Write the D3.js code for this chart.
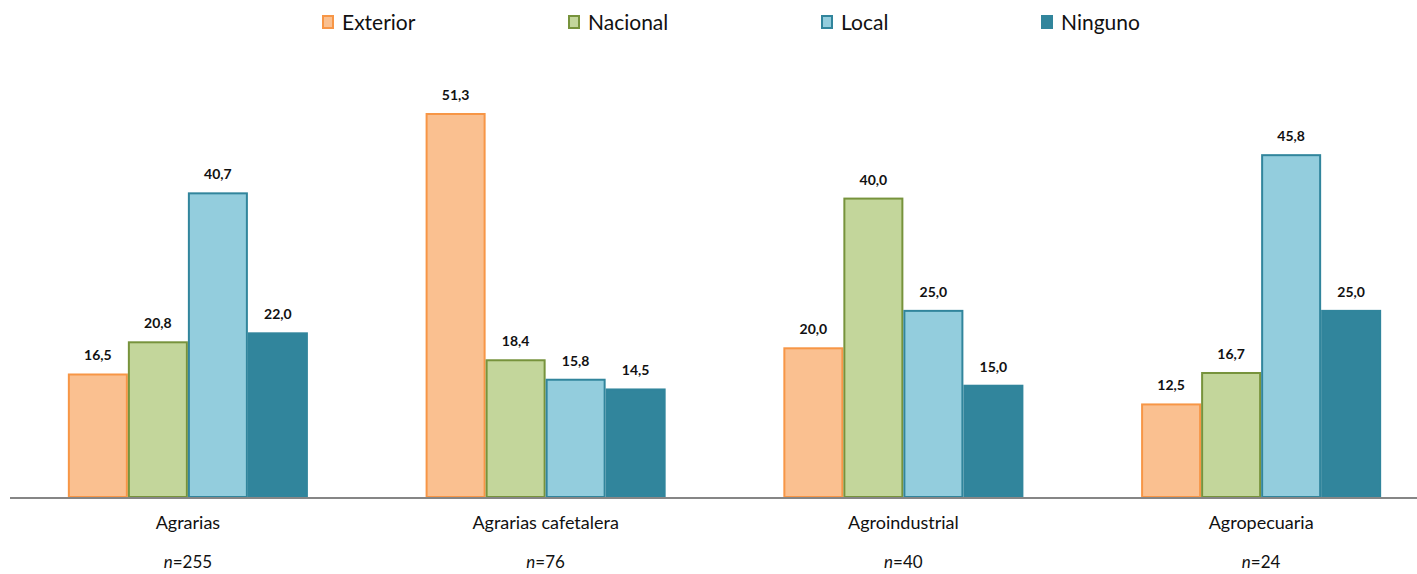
<!DOCTYPE html>
<html><head><meta charset="utf-8">
<script src="https://cdn.jsdelivr.net/npm/d3@7"></script>
<style>body{margin:0;background:#fff}svg{display:block}</style>
</head><body>
<svg id="c" width="1417" height="574"></svg>
<script>
const categories = ["Agrarias", "Agrarias cafetalera", "Agroindustrial", "Agropecuaria"];
const sampleSizes = ["255", "76", "40", "24"];
const seriesNames = ["Exterior", "Nacional", "Local", "Ninguno"];
const exterior = [16.5, 51.3, 20.0, 12.5];
const nacional = [20.8, 18.4, 40.0, 16.7];
const local = [40.7, 15.8, 25.0, 45.8];
const ninguno = [22.0, 14.5, 15.0, 25.0];
const seriesValues = [exterior, nacional, local, ninguno];
const fills = ["#FAC090", "#C3D69B", "#93CDDD", "#31859C"];
const strokes = ["#F79646", "#77933C", "#31859C", "#31859C"];

const svg = d3.select("#c");
const font = "Lato, 'Open Sans', sans-serif";
const baseY = 497;
const x0 = d3.scaleBand().domain(categories).range([9, 1440]).paddingInner(0.329).paddingOuter(0.1645);
const x1 = d3.scaleBand().domain(seriesNames).range([0, x0.bandwidth()]);
const y = d3.scaleLinear().domain([0, 51.3]).range([baseY, 113]);
const fmt = v => v.toFixed(1).replace(".", ",");

const g = svg.append("g");
categories.forEach((c, ci) => {
  seriesNames.forEach((s, si) => {
    const v = seriesValues[si][ci];
    const bx = x0(c) + x1(s);
    g.append("rect")
      .attr("x", bx + 1).attr("y", y(v) + 1)
      .attr("width", x1.bandwidth() - 2).attr("height", baseY - y(v) - 1)
      .attr("fill", fills[si]).attr("stroke", strokes[si]).attr("stroke-width", 2);
    g.append("text")
      .attr("x", bx + x1.bandwidth() / 2).attr("y", y(v) - 13)
      .attr("text-anchor", "middle").attr("font-family", font)
      .attr("font-weight", "bold").attr("font-size", 14).attr("fill", "#111")
      .text(fmt(v));
  });
});

// axis line
svg.append("line").attr("x1", 10).attr("x2", 1417).attr("y1", baseY + 1).attr("y2", baseY + 1)
  .attr("stroke", "#868686").attr("stroke-width", 2);

const xAxis = d3.axisBottom(x0).tickSize(0).tickPadding(0);
const ax = svg.append("g").attr("transform", `translate(0,${baseY})`).call(xAxis);
ax.select(".domain").remove();
ax.selectAll("text").attr("y", 32).attr("dy", 0).attr("font-family", font).attr("font-size", 18).attr("fill", "#111");

categories.forEach((c, i) => {
  const t = svg.append("text").attr("x", x0(c) + x0.bandwidth() / 2).attr("y", 568)
    .attr("text-anchor", "middle").attr("font-family", font).attr("font-size", 17).attr("fill", "#111");
  t.append("tspan").attr("font-style", "italic").text("n");
  t.append("tspan").text("=" + sampleSizes[i]);
});

// legend
const legX = [322, 568, 821, 1041];
seriesNames.forEach((s, i) => {
  svg.append("rect").attr("x", legX[i] + 1).attr("y", 16).attr("width", 10).attr("height", 12)
    .attr("fill", fills[i]).attr("stroke", strokes[i]).attr("stroke-width", 2);
  svg.append("text").attr("x", legX[i] + 20).attr("y", 30).attr("font-family", font)
    .attr("font-size", 21).attr("fill", "#111").text(s);
});
</script>
</body></html>
